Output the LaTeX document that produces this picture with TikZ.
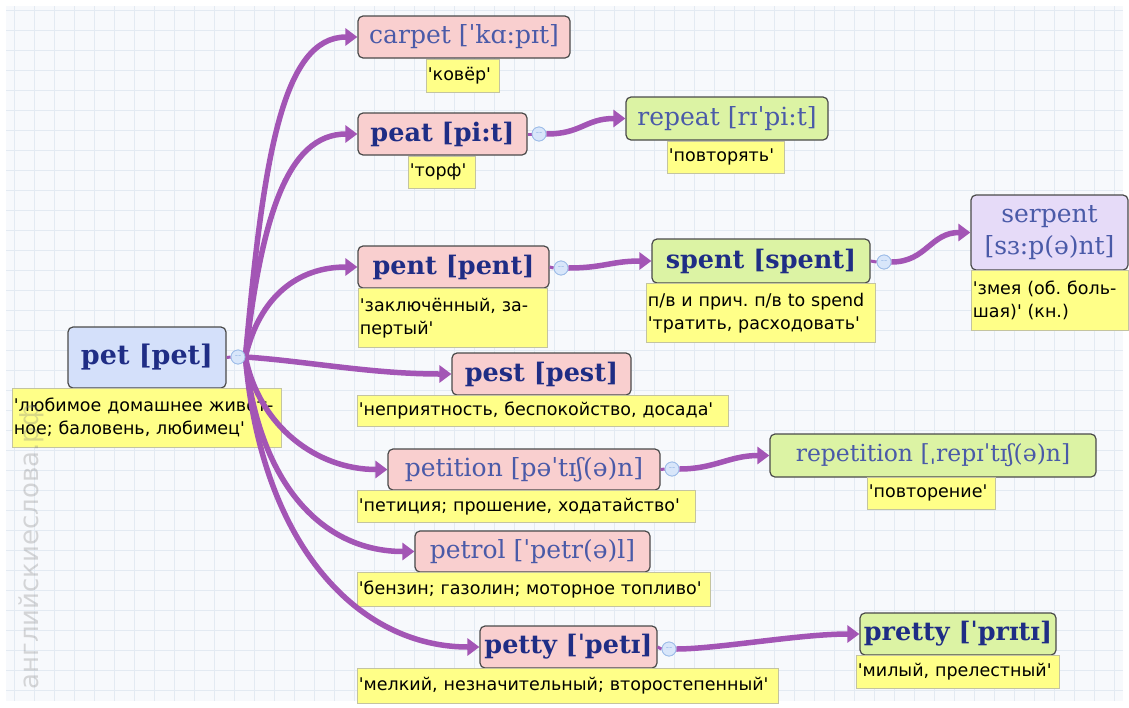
\documentclass[tikz,border=0pt]{standalone}
\usepackage{fontspec}
\setmainfont{DejaVu Serif}
\setsansfont{DejaVu Sans}[Ligatures=TeXOff]
\usetikzlibrary{arrows.meta}
\frenchspacing
\definecolor{bgc}{HTML}{F7F9FC}
\definecolor{gridc}{HTML}{E3EAF2}
\definecolor{pinkc}{HTML}{F9CFCF}
\definecolor{greenc}{HTML}{DCF3A4}
\definecolor{bluec}{HTML}{D4E0FA}
\definecolor{lavc}{HTML}{E6DBF8}
\definecolor{yelc}{HTML}{FFFF88}
\definecolor{yelb}{HTML}{C4C4A0}
\definecolor{boxb}{HTML}{4A4A4A}
\definecolor{wordc}{HTML}{4A5AA8}
\definecolor{wordb}{HTML}{1F2D85}
\definecolor{connc}{HTML}{A355B5}
\definecolor{btnf}{HTML}{D8E6FA}
\definecolor{btnb}{HTML}{9DBCE8}
\tikzset{
  tbox/.style={draw=boxb, line width=1.2pt, rounded corners=5pt, inner sep=0pt, text=wordc, font=\fontsize{25}{30}\selectfont, align=center},
  tboxb/.style={tbox, text=wordb, font=\bfseries\fontsize{25.5}{30}\selectfont},
  defbox/.style={draw=yelb, fill=yelc, line width=0.8pt, inner sep=1.5pt, font=\sffamily\fontsize{17.5}{23}\selectfont, align=left, anchor=north west},
  conn/.style={draw=connc, line width=5.5pt, -{Triangle[length=12pt,width=17pt]}},
  stub/.style={draw=connc, line width=3pt},
  btn/.style={circle, draw=btnb, fill=btnf, minimum size=14pt, inner sep=0pt, line width=0.8pt, text=btnb, font=\sffamily\fontsize{9}{9}\selectfont}
}
\begin{document}
\begin{tikzpicture}[x=1pt,y=-1pt]
\useasboundingbox (0,0) rectangle (1129,707);
\fill[white] (0,0) rectangle (1129,707);
\fill[bgc] (6,6) rectangle (1123,701);
\foreach \x in {14,34,...,1114} \draw[gridc, line width=0.6pt] (\x,6) -- (\x,701);
\foreach \y in {10,30,...,690} \draw[gridc, line width=0.6pt] (6,\y) -- (1123,\y);

% word boxes
\node[tboxb, fill=bluec, minimum width=158pt, minimum height=61pt, font=\bfseries\fontsize{27}{30}\selectfont] (pet) at (147,357.5) {pet [pet]};
\node[tbox, fill=pinkc, minimum width=212pt, minimum height=42pt] (carpet) at (464,37) {carpet [ˈkɑ:pɪt]};
\node[tboxb, fill=pinkc, minimum width=169pt, minimum height=42pt] (peat) at (442.5,134) {peat [pi:t]};
\node[tbox, fill=greenc, minimum width=202pt, minimum height=43pt] (repeat) at (727,118.5) {repeat [rɪˈpi:t]};
\node[tboxb, fill=pinkc, minimum width=191pt, minimum height=42pt] (pent) at (453.5,267) {pent [pent]};
\node[tboxb, fill=greenc, minimum width=218pt, minimum height=44pt] (spent) at (761,261) {spent [spent]};
\node[tbox, fill=lavc, minimum width=157pt, minimum height=75pt, font=\fontsize{25}{32}\selectfont] (serpent) at (1049.5,232.5) {serpent\\\relax[sɜ:p(ə)nt]};
\node[tboxb, fill=pinkc, minimum width=179pt, minimum height=42pt] (pest) at (541.5,374) {pest [pest]};
\node[tbox, fill=pinkc, minimum width=272pt, minimum height=41pt] (petition) at (524,469.5) {petition [pəˈtɪʃ(ə)n]};
\node[tbox, fill=greenc, minimum width=326pt, minimum height=43pt, font=\fontsize{23.5}{28}\selectfont] (repetition) at (933,455.5) {repetition [ˌrepɪˈtɪʃ(ə)n]};
\node[tbox, fill=pinkc, minimum width=235pt, minimum height=41pt] (petrol) at (532.5,551.5) {petrol [ˈpetr(ə)l]};
\node[tboxb, fill=pinkc, minimum width=177pt, minimum height=42pt] (petty) at (568.5,647) {petty [ˈpetɪ]};
\node[tboxb, fill=greenc, minimum width=196pt, minimum height=42pt] (pretty) at (958,634) {pretty [ˈprɪtɪ]};

% definitions
\node[defbox, minimum width=269pt, minimum height=59pt, text width=266pt] (petd) at (12,388) {'любимое домашнее живот-\\ное; баловень, любимец'};
\node[defbox, minimum width=73pt, minimum height=33pt, text width=70pt] (carpetd) at (426,59) {'ковёр'};
\node[defbox, minimum width=67pt, minimum height=32pt, text width=64pt] (peatd) at (408,156) {'торф'};
\node[defbox, minimum width=117pt, minimum height=32pt, text width=114pt] (repeatd) at (667,141) {'повторять'};
\node[defbox, minimum width=189pt, minimum height=59pt, text width=186pt] (pentd) at (358,288) {'заключённый, за-\\пертый'};
\node[defbox, minimum width=229pt, minimum height=59pt, text width=226pt] (spentd) at (646,283) {п/в и прич. п/в to spend\\'тратить, расходовать'};
\node[defbox, minimum width=157pt, minimum height=60pt, text width=154pt] (serpentd) at (971,270) {'змея (об. боль-\\шая)' (кн.)};
\node[defbox, minimum width=371pt, minimum height=31pt, text width=368pt] (pestd) at (357,395) {'неприятность, беспокойство, досада'};
\node[defbox, minimum width=338pt, minimum height=32pt, text width=335pt] (petitiond) at (357,490) {'петиция; прошение, ходатайство'};
\node[defbox, minimum width=128pt, minimum height=32pt, text width=125pt] (repetitiond) at (867,477) {'повторение'};
\node[defbox, minimum width=353pt, minimum height=34pt, text width=350pt] (petrold) at (357,572) {'бензин; газолин; моторное топливо'};
\node[defbox, minimum width=421pt, minimum height=35pt, text width=418pt] (pettyd) at (357,668) {'мелкий, незначительный; второстепенный'};
\node[defbox, minimum width=203pt, minimum height=33pt, text width=200pt] (prettyd) at (856,655) {'милый, прелестный'};

% buttons
\node[btn] (petb) at (238,357) {};
\node[btn] (peatb) at (539,134) {};
\node[btn] (pentb) at (561,268) {};
\node[btn] (spentb) at (884,262) {};
\node[btn] (petitionb) at (672,469) {};
\node[btn] (pettyb) at (669,649) {};

% stubs
\draw[stub] (pet.east) -- (petb.west);
\draw[stub] (peat.east) -- (peatb.west);
\draw[stub] (pent.east) -- (pentb.west);
\draw[stub] (spent.east) -- (spentb.west);
\draw[stub] (petition.east) -- (petitionb.west);
\draw[stub] (petty.east) -- (pettyb.west);

% connectors from pet
\draw[conn] (petb.east) .. controls +(18,-200) and +(-75,0) .. (carpet.west);
\draw[conn] (petb.east) .. controls +(16,-140) and +(-70,0) .. (peat.west);
\draw[conn] (petb.east) .. controls +(14,-60) and +(-60,0) .. (pent.west);
\draw[conn] (petb.east) .. controls +(60,4) and +(-80,0) .. (pest.west);
\draw[conn] (petb.east) .. controls +(14,70) and +(-70,0) .. (petition.west);
\draw[conn] (petb.east) .. controls +(14,130) and +(-90,0) .. (petrol.west);
\draw[conn] (petb.east) .. controls +(16,190) and +(-120,0) .. (petty.west);

% secondary connectors
\draw[conn] (peatb.east) .. controls +(35,0) and +(-40,0) .. (repeat.west);
\draw[conn] (pentb.east) .. controls +(35,0) and +(-40,0) .. (spent.west);
\draw[conn] (spentb.east) .. controls +(35,0) and +(-40,0) .. (serpent.west);
\draw[conn] (petitionb.east) .. controls +(35,0) and +(-40,0) .. (repetition.west);
\draw[conn] (pettyb.east) .. controls +(40,0) and +(-60,0) .. (pretty.west);

% buttons on top
\node[btn] at (petb) {--};
\node[btn] at (peatb) {--};
\node[btn] at (pentb) {--};
\node[btn] at (spentb) {--};
\node[btn] at (petitionb) {--};
\node[btn] at (pettyb) {--};

% watermark
\node[rotate=90, anchor=west, font=\sffamily\fontsize{26}{26}\selectfont, text=gray, opacity=0.3] (wm) at (31,693) {английскиеслова.рф};
\end{tikzpicture}
\end{document}
